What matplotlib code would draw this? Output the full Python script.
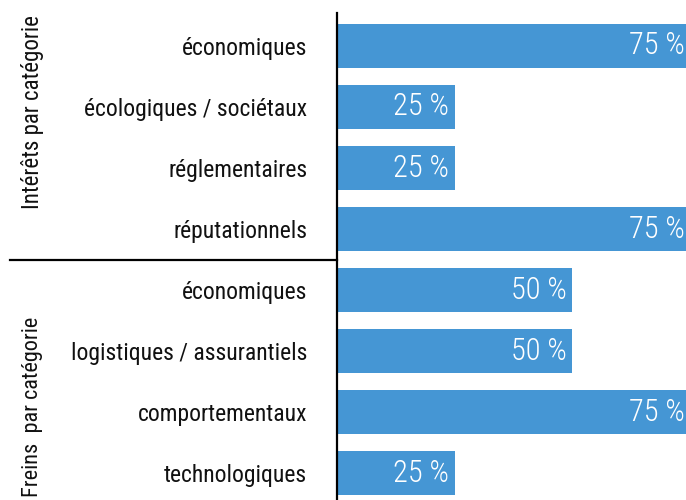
import matplotlib
matplotlib.use("Agg")
import matplotlib.pyplot as plt
from matplotlib import font_manager as fm
from matplotlib import transforms
from matplotlib.lines import Line2D

categories = ["économiques", "écologiques / sociétaux", "réglementaires", "réputationnels",
              "économiques", "logistiques / assurantiels", "comportementaux", "technologiques"]
values = [75, 25, 25, 75, 50, 50, 75, 25]
value_labels = [f"{v} %" for v in values]
group_labels = ["Intérêts par catégorie", "Freins  par catégorie"]


def pick_font(weights):
    entries = fm.fontManager.ttflist
    prefs = ["Roboto Condensed", "Liberation Sans Narrow", "Open Sans Condensed",
             "DejaVu Sans Condensed", "Noto Sans Condensed"]
    for w in weights:
        for p in prefs:
            for f in entries:
                if f.name == p and f.style == "normal" and f.weight == w:
                    return fm.FontProperties(fname=f.fname)
    for f in entries:
        st = str(f.stretch).lower()
        if ("condensed" in st or "narrow" in f.fname.lower() or "condensed" in f.fname.lower()) \
                and f.style == "normal" and "bold" not in f.fname.lower() \
                and "oblique" not in f.fname.lower() and "italic" not in f.fname.lower():
            return fm.FontProperties(fname=f.fname)
    return fm.FontProperties(family="DejaVu Sans")


label_font = pick_font([400, "normal", "regular"])
value_font = pick_font([300, "light", 400, "normal", "regular"])


def fp(base, size):
    p = base.copy()
    p.set_size(size)
    return p


W, H = 686, 500
fig = plt.figure(figsize=(W / 100, H / 100), dpi=100)
ax_left, ax_right, ax_top, ax_bottom = 337, 686, 13, 500
ax = fig.add_axes([ax_left / W, 1 - ax_bottom / H, (ax_right - ax_left) / W, (ax_bottom - ax_top) / H])

y = list(range(len(categories)))
ax.barh(y, values, height=0.72, color="#4596D4", zorder=2)
ax.set_xlim(0, 74.1)
ax.set_ylim(7.44, -0.54)

ax.set_yticks(y)
ax.set_yticklabels(categories, fontproperties=fp(label_font, 17), color="#111111")
ax.tick_params(axis="y", length=0, pad=21.5)
ax.set_xticks([])
for s in ["top", "right", "bottom"]:
    ax.spines[s].set_visible(False)
ax.spines["left"].set_linewidth(1.6)
ax.spines["left"].set_color("black")
ax.spines["left"].set_zorder(3)

for yi, v, lab in zip(y, values, value_labels):
    ax.annotate(lab, xy=(v, yi), xytext=(-4, 0), textcoords="offset points",
                ha="right", va="center", color="white", fontproperties=fp(value_font, 22),
                annotation_clip=False, zorder=4)

# separator between the two groups
tr = transforms.blended_transform_factory(ax.transAxes, ax.transData)
x0 = (10 - ax_left) / (ax_right - ax_left)
ax.add_line(Line2D([x0, 0], [3.5, 3.5], transform=tr, color="black", lw=1.6, clip_on=False))

# group labels
fig.text(33 / W, 1 - 15 / H, group_labels[0], rotation=90, ha="center", va="top",
         fontproperties=fp(label_font, 16.5), color="#111111")
fig.text(33 / W, 1 - 497 / H, group_labels[1], rotation=90, ha="center", va="bottom",
         fontproperties=fp(label_font, 16), color="#111111")

fig.savefig("out.png", dpi=100)
